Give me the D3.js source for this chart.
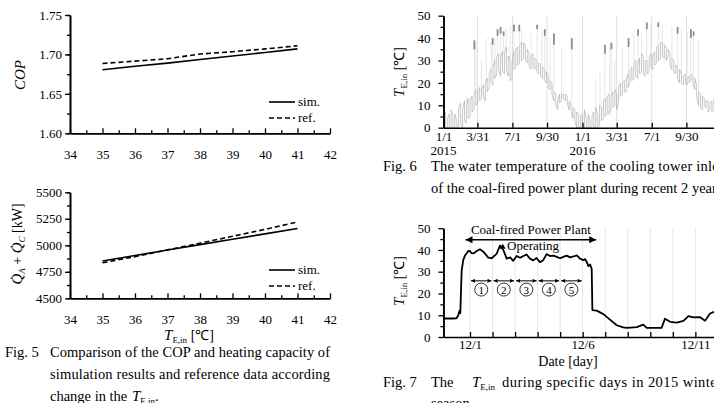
<!DOCTYPE html>
<html>
<head>
<meta charset="utf-8">
<script src="https://cdn.jsdelivr.net/npm/d3@7"></script>
<style>
  body { margin: 0; background: #fff; }
  svg, svg text { font-family: "Liberation Serif", "Times New Roman", serif; }
  svg { display: block; }
</style>
</head>
<body>
<svg id="fig" width="714" height="403"></svg>
<script>
// ---- Fig. 5 : COP and heating capacity vs T_E,in ----
var tempIn = [35, 36, 37, 38, 39, 40, 41];
var copSim = [1.6805, 1.685, 1.689, 1.6935, 1.698, 1.7025, 1.707];
var copRef = [1.6885, 1.6915, 1.6945, 1.7005, 1.7035, 1.707, 1.711];
var capSim = [4852, 4903, 4955, 5006, 5057, 5108, 5158];
var capRef = [4835, 4893, 4957, 5020, 5085, 5150, 5220];
var copTicks = [1.60, 1.65, 1.70, 1.75];
var capTicks = [4500, 4750, 5000, 5250, 5500];

// ---- Fig. 6 : cooling tower inlet temperature, 2015-2016 (day 0 = 1/1/2015) ----
var fig6Days = [0, 5, 10, 15, 20, 25, 30, 35, 40, 45, 50, 55, 60, 65, 70, 75, 80, 85, 90, 95,
  100, 105, 110, 115, 120, 125, 130, 135, 140, 145, 150, 155, 160, 165, 170, 175, 180, 185, 190, 195,
  200, 205, 210, 215, 220, 225, 230, 235, 240, 245, 250, 255, 260, 265, 270, 275, 280, 285, 290, 295,
  300, 305, 310, 315, 320, 325, 330, 335, 340, 345, 350, 355, 360, 365, 370, 375, 380, 385, 390, 395,
  400, 405, 410, 415, 420, 425, 430, 435, 440, 445, 450, 455, 460, 465, 470, 475, 480, 485, 490, 495,
  500, 505, 510, 515, 520, 525, 530, 535, 540, 545, 550, 555, 560, 565, 570, 575, 580, 585, 590, 595,
  600, 605, 610, 615, 620, 625, 630, 635, 640, 645, 650, 655, 660, 665, 670, 675, 680, 685, 690, 695,
  700, 705, 710];
var fig6Lo = [0, 0, 0, 0, 0, 0, 0, 0, 0, 2, 0, 3, 2, 4, 5, 7, 8, 10, 11, 12,
  13, 14, 12, 16, 18, 20, 19, 22, 24, 26, 23, 25, 24, 26, 23, 21, 22, 26, 27, 28,
  29, 30, 31, 30, 29, 27, 26, 27, 26, 25, 24, 23, 22, 21, 20, 18, 17, 15, 12, 10,
  8, 11, 12, 13, 12, 11, 8, 8, 4, 3, 0, 0, 0, 0, 0, 0, 0, 0, 0, 0,
  0, 0, 1, 3, 4, 5, 6, 6, 8, 9, 10, 8, 12, 14, 15, 16, 16, 18, 20, 21,
  22, 23, 22, 24, 25, 24, 23, 24, 25, 27, 26, 28, 29, 30, 31, 32, 31, 30, 32, 28,
  26, 25, 24, 22, 20, 20, 19, 20, 19, 20, 21, 20, 17, 14, 10, 9, 8, 10, 9, 7,
  8, 7, 8];
var fig6Hi = [5, 7, 4, 6, 8, 5, 6, 3, 9, 11, 8, 12, 10, 13, 12, 14, 15, 17, 16, 18,
  17, 19, 20, 22, 24, 26, 27, 30, 32, 33, 31, 34, 33, 36, 32, 30, 29, 34, 35, 36,
  37, 38, 38, 37, 35, 33, 32, 33, 31, 30, 29, 28, 27, 26, 25, 23, 21, 20, 16, 15,
  12, 15, 15, 15, 15, 14, 12, 10, 9, 8, 7, 6, 5, 6, 8, 4, 6, 3, 5, 7,
  9, 6, 10, 9, 12, 13, 14, 15, 14, 16, 17, 15, 18, 20, 20, 21, 22, 24, 26, 27,
  29, 30, 28, 31, 33, 32, 30, 30, 31, 33, 32, 34, 36, 37, 38, 38, 37, 36, 35, 33,
  31, 30, 28, 27, 26, 24, 23, 24, 22, 23, 24, 23, 22, 19, 16, 15, 14, 13, 12, 12,
  11, 12, 13];
// operating periods (dark clusters)
var opDays = [81, 129, 142, 150, 158, 185, 199, 246, 266, 290, 337, 424, 441, 486, 511, 534, 564, 615, 650, 657];
var opLo = [35, 37, 41, 42, 41, 43, 43, 44, 41, 37, 35, 33, 35, 36, 41, 44, 45, 42, 40, 41];
var opHi = [39, 40, 44, 45, 43, 46, 46, 46, 44, 42, 40, 37, 38, 40, 44, 47, 47, 45, 44, 43];
// short start-up spikes
var spikeDays = [60, 85, 100, 112, 125, 135, 165, 175, 205, 230, 258, 280, 310,
  400, 411, 437, 450, 470, 500, 520, 545, 575, 600, 625, 640, 670];
var spikeTop = [14, 38, 30, 40, 38, 40, 44, 45, 44, 42, 43, 40, 36,
  22, 25, 38, 30, 36, 44, 42, 47, 46, 45, 44, 43, 40];
var fig6TickDays = [0, 89, 181, 272, 365, 455, 547, 638];
var fig6TickLabels = ['1/1', '3/31', '7/1', '9/30', '1/1', '3/31', '7/1', '9/30'];
var fig6YearDays = [0, 365];
var fig6YearLabels = ['2015', '2016'];
var tempTicks = [0, 10, 20, 30, 40, 50];

// ---- Fig. 7 : T_E,in during Dec 2015 (day 0 = 12/1) ----
var decDays = [-1.18, -0.8, -0.6, -0.52, -0.47, -0.43, -0.37, -0.30, -0.22, -0.15, -0.07, 0.0, 0.07, 0.15,
  0.3, 0.44, 0.59, 0.81, 0.96, 1.18, 1.33, 1.48, 1.63, 1.78, 1.92, 2.07, 2.22, 2.37, 2.51, 2.66, 2.81,
  2.95, 3.1, 3.25, 3.4, 3.55, 3.7, 3.85, 4.0, 4.14, 4.29, 4.44, 4.59, 4.74, 4.88, 5.03, 5.1, 5.18, 5.25,
  5.33, 5.40, 5.43, 5.62, 5.92, 6.21, 6.51, 6.8, 6.95, 7.4, 7.69, 7.84, 8.5, 8.65, 8.88, 9.17, 9.47,
  9.69, 9.91, 10.21, 10.43, 10.65, 10.8, 11.2, 11.8];
var decTemp = [8.5, 8.5, 8.6, 10, 12, 11, 30.5, 35.3, 37.5, 38.4, 39.6, 39.5, 38.5, 38.4,
  39.5, 40.3, 39.2, 36.5, 36.2, 38.2, 42, 40, 36, 36.6, 35, 37.2, 36.4, 37.2, 37.9, 36, 35.2,
  36.3, 34.4, 35.3, 38.1, 37.2, 37.4, 36.8, 36.2, 36.8, 37.4, 36.6, 37, 37.5, 36, 35.3, 35.8, 34.5, 32.6,
  33.3, 31.3, 12.4, 12.1, 10.5, 8, 5.4, 4.4, 4.2, 4.5, 5.7, 4.2, 4.2, 8.4, 7, 6.6, 7.4,
  9.6, 9, 9.1, 7.5, 10.8, 11.4, 11, 10];
var decTickDays = [0, 1, 2, 3, 4, 5, 6, 7, 8, 9, 10, 11];
var decTickLabels = {0: '12/1', 5: '12/6', 10: '12/11'};
var plantSpan = [-0.2, 5.6];
var periodDays = [0, 1, 2, 3, 4, 5];
var periodLabels = ['1', '2', '3', '4', '5'];

var SERIF = '"Liberation Serif", "Times New Roman", serif';
var svg = d3.select('#fig').attr('font-family', SERIF);
svg.append('rect').attr('width', 714).attr('height', 403).attr('fill', '#fff');

var defs = svg.append('defs');
function addMarker(id, w, h) {
  defs.append('marker')
    .attr('id', id)
    .attr('viewBox', '0 0 10 10')
    .attr('refX', 10).attr('refY', 5)
    .attr('markerUnits', 'userSpaceOnUse')
    .attr('markerWidth', w).attr('markerHeight', h)
    .attr('orient', 'auto-start-reverse')
    .append('path').attr('d', 'M0,0 L10,5 L0,10 Z').attr('fill', '#000');
}
addMarker('arrowBig', 9, 7);
addMarker('arrowSmall', 5, 4);

function styleAxis(g) {
  g.attr('font-family', SERIF).attr('font-size', 13);
  g.select('.domain').attr('stroke', '#000').attr('stroke-width', 1.6);
  g.selectAll('.tick line').attr('stroke', '#000').attr('stroke-width', 1.3);
  g.selectAll('.tick text').attr('fill', '#000').attr('font-family', SERIF);
  return g;
}

// T_E,in style label
function tLabel(sel, fs) {
  sel.append('tspan').attr('font-style', 'italic').attr('font-size', fs + 1).text('T');
  sel.append('tspan').attr('font-size', fs - 5).attr('dy', 3).text('E,in');
}

// ---------------- Fig. 5 ----------------
var x5 = d3.scaleLinear().domain([34, 42]).range([70, 330]);

function comparisonPanel(opts) {
  var y = d3.scaleLinear().domain(opts.domain).range(opts.range);
  var g = svg.append('g');

  styleAxis(g.append('g')
    .attr('transform', 'translate(0,' + opts.range[0] + ')')
    .call(d3.axisBottom(x5).tickValues(d3.range(34.5, 42, 1)).tickSizeInner(-3).tickSizeOuter(0).tickFormat('')));
  styleAxis(g.append('g')
    .attr('transform', 'translate(0,' + opts.range[0] + ')')
    .call(d3.axisBottom(x5).ticks(8).tickSizeInner(-5).tickSizeOuter(0).tickPadding(16)));

  styleAxis(g.append('g')
    .attr('transform', 'translate(70,0)')
    .call(d3.axisLeft(y).tickValues(opts.minor).tickSizeInner(3).tickSizeOuter(0).tickFormat('')));
  styleAxis(g.append('g')
    .attr('transform', 'translate(70,0)')
    .call(d3.axisLeft(y).tickValues(opts.ticks).tickFormat(opts.format).tickSizeInner(5).tickSizeOuter(0).tickPadding(3)));

  var line = d3.line().x(function (d) { return x5(d[0]); }).y(function (d) { return y(d[1]); });
  g.append('path').datum(d3.zip(tempIn, opts.sim))
    .attr('d', line).attr('fill', 'none').attr('stroke', '#000').attr('stroke-width', 1.6);
  g.append('path').datum(d3.zip(tempIn, opts.ref))
    .attr('d', line).attr('fill', 'none').attr('stroke', '#000').attr('stroke-width', 1.6)
    .attr('stroke-dasharray', '5,3');

  var leg = g.append('g').attr('font-size', 13);
  [['sim.', null, opts.legendY], ['ref.', '5,3', opts.legendY + 16]].forEach(function (r) {
    leg.append('line').attr('x1', 269).attr('x2', 295).attr('y1', r[2]).attr('y2', r[2])
      .attr('stroke', '#000').attr('stroke-width', 1.6).attr('stroke-dasharray', r[1]);
    leg.append('text').attr('x', 298).attr('y', r[2] + 4).text(r[0]);
  });
  return g;
}

comparisonPanel({
  domain: [1.60, 1.75], range: [133.3, 15],
  ticks: copTicks, minor: d3.range(1.6, 1.7501, 0.025),
  format: d3.format('.2f'), sim: copSim, ref: copRef, legendY: 102
});
comparisonPanel({
  domain: [4500, 5500], range: [298.3, 192.3],
  ticks: capTicks, minor: d3.range(4500, 5501, 125),
  format: d3.format('d'), sim: capSim, ref: capRef, legendY: 270
});

svg.append('text').attr('transform', 'translate(25,75) rotate(-90)')
  .attr('text-anchor', 'middle').attr('font-size', 15).attr('font-style', 'italic').text('COP');

var qLab = svg.append('text').attr('transform', 'translate(22,244) rotate(-90)')
  .attr('text-anchor', 'middle').attr('font-size', 14);
qLab.append('tspan').attr('font-style', 'italic').attr('font-size', 15).text('Q\u0307');
qLab.append('tspan').attr('font-style', 'italic').attr('font-size', 9).attr('dy', 3).text('A');
qLab.append('tspan').attr('dy', -3).text(' + ');
qLab.append('tspan').attr('font-style', 'italic').attr('font-size', 15).text('Q\u0307');
qLab.append('tspan').attr('font-style', 'italic').attr('font-size', 9).attr('dy', 3).text('C');
qLab.append('tspan').attr('dy', -3).text(' [kW]');

var x5Lab = svg.append('text').attr('x', 189).attr('y', 340).attr('text-anchor', 'middle').attr('font-size', 14);
tLabel(x5Lab, 14);
x5Lab.append('tspan').attr('dy', -3).text(' [\u2103]');

// ---------------- Fig. 6 ----------------
var x6 = d3.scaleLinear().domain([0, 731]).range([443.5, 721.8]);
var y6 = d3.scaleLinear().domain([0, 50]).range([127.7, 15.7]);
var g6 = svg.append('g');

g6.selectAll('.grid6').data(fig6TickDays.slice(1)).enter().append('line')
  .attr('x1', x6).attr('x2', x6).attr('y1', y6(0)).attr('y2', y6(50))
  .attr('stroke', '#e0e0e0').attr('stroke-width', 1);

var zig = [];
fig6Days.forEach(function (d, i) {
  if (i % 2 === 0) { zig.push([d, fig6Lo[i]]); zig.push([d, fig6Hi[i]]); }
  else { zig.push([d, fig6Hi[i]]); zig.push([d, fig6Lo[i]]); }
});
function baseAt(day) {
  var i = d3.minIndex(fig6Days, function (d) { return Math.abs(d - day); });
  return fig6Hi[i];
}
g6.selectAll('.spike').data(spikeDays).enter().append('line')
  .attr('x1', x6).attr('x2', x6)
  .attr('y1', function (d) { return y6(baseAt(d)); })
  .attr('y2', function (d, i) { return y6(spikeTop[i]); })
  .attr('stroke', '#cfcfcf').attr('stroke-width', 0.5);
g6.selectAll('.opLink').data(opDays).enter().append('line')
  .attr('x1', x6).attr('x2', x6)
  .attr('y1', function (d) { return y6(baseAt(d)); })
  .attr('y2', function (d, i) { return y6(opLo[i]); })
  .attr('stroke', '#cfcfcf').attr('stroke-width', 0.5);
g6.append('path').datum(zig)
  .attr('d', d3.line().x(function (d) { return x6(d[0]); }).y(function (d) { return y6(d[1]); }))
  .attr('fill', 'none').attr('stroke', '#a2a2a2').attr('stroke-width', 0.6);
g6.selectAll('.op').data(opDays).enter().append('line')
  .attr('x1', x6).attr('x2', x6)
  .attr('y1', function (d, i) { return y6(opLo[i]); })
  .attr('y2', function (d, i) { return y6(opHi[i]); })
  .attr('stroke', '#8c8c8c').attr('stroke-width', 1.8);

styleAxis(g6.append('g').attr('transform', 'translate(0,' + y6(0) + ')')
  .call(d3.axisBottom(x6).tickValues(fig6TickDays)
    .tickFormat(function (d, i) { return fig6TickLabels[i]; })
    .tickSizeInner(-5).tickSizeOuter(0).tickPadding(4)));
g6.selectAll('.year').data(fig6YearDays).enter().append('text')
  .attr('x', x6).attr('y', 155).attr('text-anchor', 'middle').attr('font-size', 13)
  .text(function (d, i) { return fig6YearLabels[i]; });

function tempAxis(g, y, x0) {
  styleAxis(g.append('g').attr('transform', 'translate(' + x0 + ',0)')
    .call(d3.axisLeft(y).tickValues(d3.range(5, 50, 10)).tickSizeInner(3).tickSizeOuter(0).tickFormat('')));
  styleAxis(g.append('g').attr('transform', 'translate(' + x0 + ',0)')
    .call(d3.axisLeft(y).tickValues(tempTicks).tickSizeInner(5).tickSizeOuter(0).tickPadding(8)));
}
tempAxis(g6, y6, 443.5);

function tempYLabel(cy) {
  var t = svg.append('text').attr('transform', 'translate(404,' + cy + ') rotate(-90)')
    .attr('text-anchor', 'middle').attr('font-size', 14);
  tLabel(t, 14);
  t.append('tspan').attr('dy', -3).text(' [\u2103]');
}
tempYLabel(72);

// ---------------- Fig. 7 ----------------
var x7 = d3.scaleLinear().domain([-1.18, 11.9]).range([443.4, 738.2]);
var y7 = d3.scaleLinear().domain([0, 50]).range([337, 228.2]);
var g7 = svg.append('g');

g7.selectAll('.grid7').data(decTickDays).enter().append('line')
  .attr('x1', x7).attr('x2', x7).attr('y1', y7(0)).attr('y2', y7(50))
  .attr('stroke', '#e6e6e6').attr('stroke-width', 1);

g7.append('path').datum(d3.zip(decDays, decTemp))
  .attr('d', d3.line().x(function (d) { return x7(d[0]); }).y(function (d) { return y7(d[1]); }))
  .attr('fill', 'none').attr('stroke', '#000').attr('stroke-width', 1.8).attr('stroke-linejoin', 'round');

styleAxis(g7.append('g').attr('transform', 'translate(0,' + y7(0) + ')')
  .call(d3.axisBottom(x7).tickValues(decTickDays)
    .tickFormat(function (d) { return decTickLabels[d] || ''; })
    .tickSizeInner(-5).tickSizeOuter(0).tickPadding(3)));
tempAxis(g7, y7, 443.4);
tempYLabel(281);

svg.append('text').attr('x', 568).attr('y', 366).attr('text-anchor', 'middle')
  .attr('font-size', 14).text('Date [day]');

// annotations
g7.append('line').attr('x1', x7(plantSpan[0])).attr('x2', x7(plantSpan[1]))
  .attr('y1', y7(44.7)).attr('y2', y7(44.7))
  .attr('stroke', '#000').attr('stroke-width', 1.3)
  .attr('marker-start', 'url(#arrowBig)').attr('marker-end', 'url(#arrowBig)');
g7.append('text').attr('x', x7(2.7)).attr('y', y7(47.2)).attr('text-anchor', 'middle')
  .attr('font-size', 13).text('Coal-fired Power Plant');
g7.append('text').attr('x', x7(2.8)).attr('y', y7(39.8)).attr('text-anchor', 'middle')
  .attr('font-size', 13).text('Operating');
g7.append('path')
  .attr('d', 'M' + x7(1.45) + ',' + (y7(41.5) - 3) + ' l3,5 l-6,0 Z').attr('fill', '#000');

g7.selectAll('.period').data(periodLabels).enter().append('line')
  .attr('x1', function (d, i) { return x7(periodDays[i]) + 1; })
  .attr('x2', function (d, i) { return x7(periodDays[i + 1]) - 1; })
  .attr('y1', y7(25.8)).attr('y2', y7(25.8))
  .attr('stroke', '#000').attr('stroke-width', 1)
  .attr('marker-start', 'url(#arrowSmall)').attr('marker-end', 'url(#arrowSmall)');
var circ = g7.selectAll('.circ').data(periodLabels).enter().append('g')
  .attr('transform', function (d, i) {
    return 'translate(' + x7((periodDays[i] + periodDays[i + 1]) / 2) + ',' + y7(21.8) + ')';
  });
circ.append('circle').attr('r', 6.5).attr('fill', '#fff').attr('stroke', '#000').attr('stroke-width', 0.8);
circ.append('text').attr('y', 4).attr('text-anchor', 'middle').attr('font-size', 11).text(function (d) { return d; });

// ---------------- captions ----------------
var cap = svg.append('g').attr('font-size', 14.5);
cap.append('text').attr('x', 5).attr('y', 357).text('Fig. 5');
cap.append('text').attr('x', 50).attr('y', 357).attr('textLength', 280).attr('lengthAdjust', 'spacing')
  .text('Comparison of the COP and heating capacity of');
cap.append('text').attr('x', 50).attr('y', 379).attr('textLength', 280).attr('lengthAdjust', 'spacing')
  .text('simulation results and reference data according');
var c3 = cap.append('text').attr('x', 50).attr('y', 401);
c3.append('tspan').text('change in the ');
c3.append('tspan').attr('x', 132).attr('font-style', 'italic').attr('font-size', 15).text('T');
c3.append('tspan').attr('font-size', 9).attr('dy', 3).text('E,in');
c3.append('tspan').attr('dy', -3).text('.');

cap.append('text').attr('x', 383).attr('y', 171).text('Fig. 6');
cap.append('text').attr('x', 431).attr('y', 171).attr('textLength', 292).attr('lengthAdjust', 'spacing')
  .text('The water temperature of the cooling tower inlet');
cap.append('text').attr('x', 431).attr('y', 193).text('of the coal-fired power plant during recent 2 years.');

cap.append('text').attr('x', 383).attr('y', 387).text('Fig. 7');
cap.append('text').attr('x', 431).attr('y', 387).text('The');
var c7 = cap.append('text').attr('x', 472).attr('y', 387);
c7.append('tspan').attr('font-style', 'italic').attr('font-size', 15).text('T');
c7.append('tspan').attr('font-size', 9).attr('dy', 3).text('E,in');
cap.append('text').attr('x', 502).attr('y', 387).attr('textLength', 220).attr('lengthAdjust', 'spacing')
  .text('during specific days in 2015 winter');
cap.append('text').attr('x', 431).attr('y', 408).text('season.');
</script>
</body>
</html>
